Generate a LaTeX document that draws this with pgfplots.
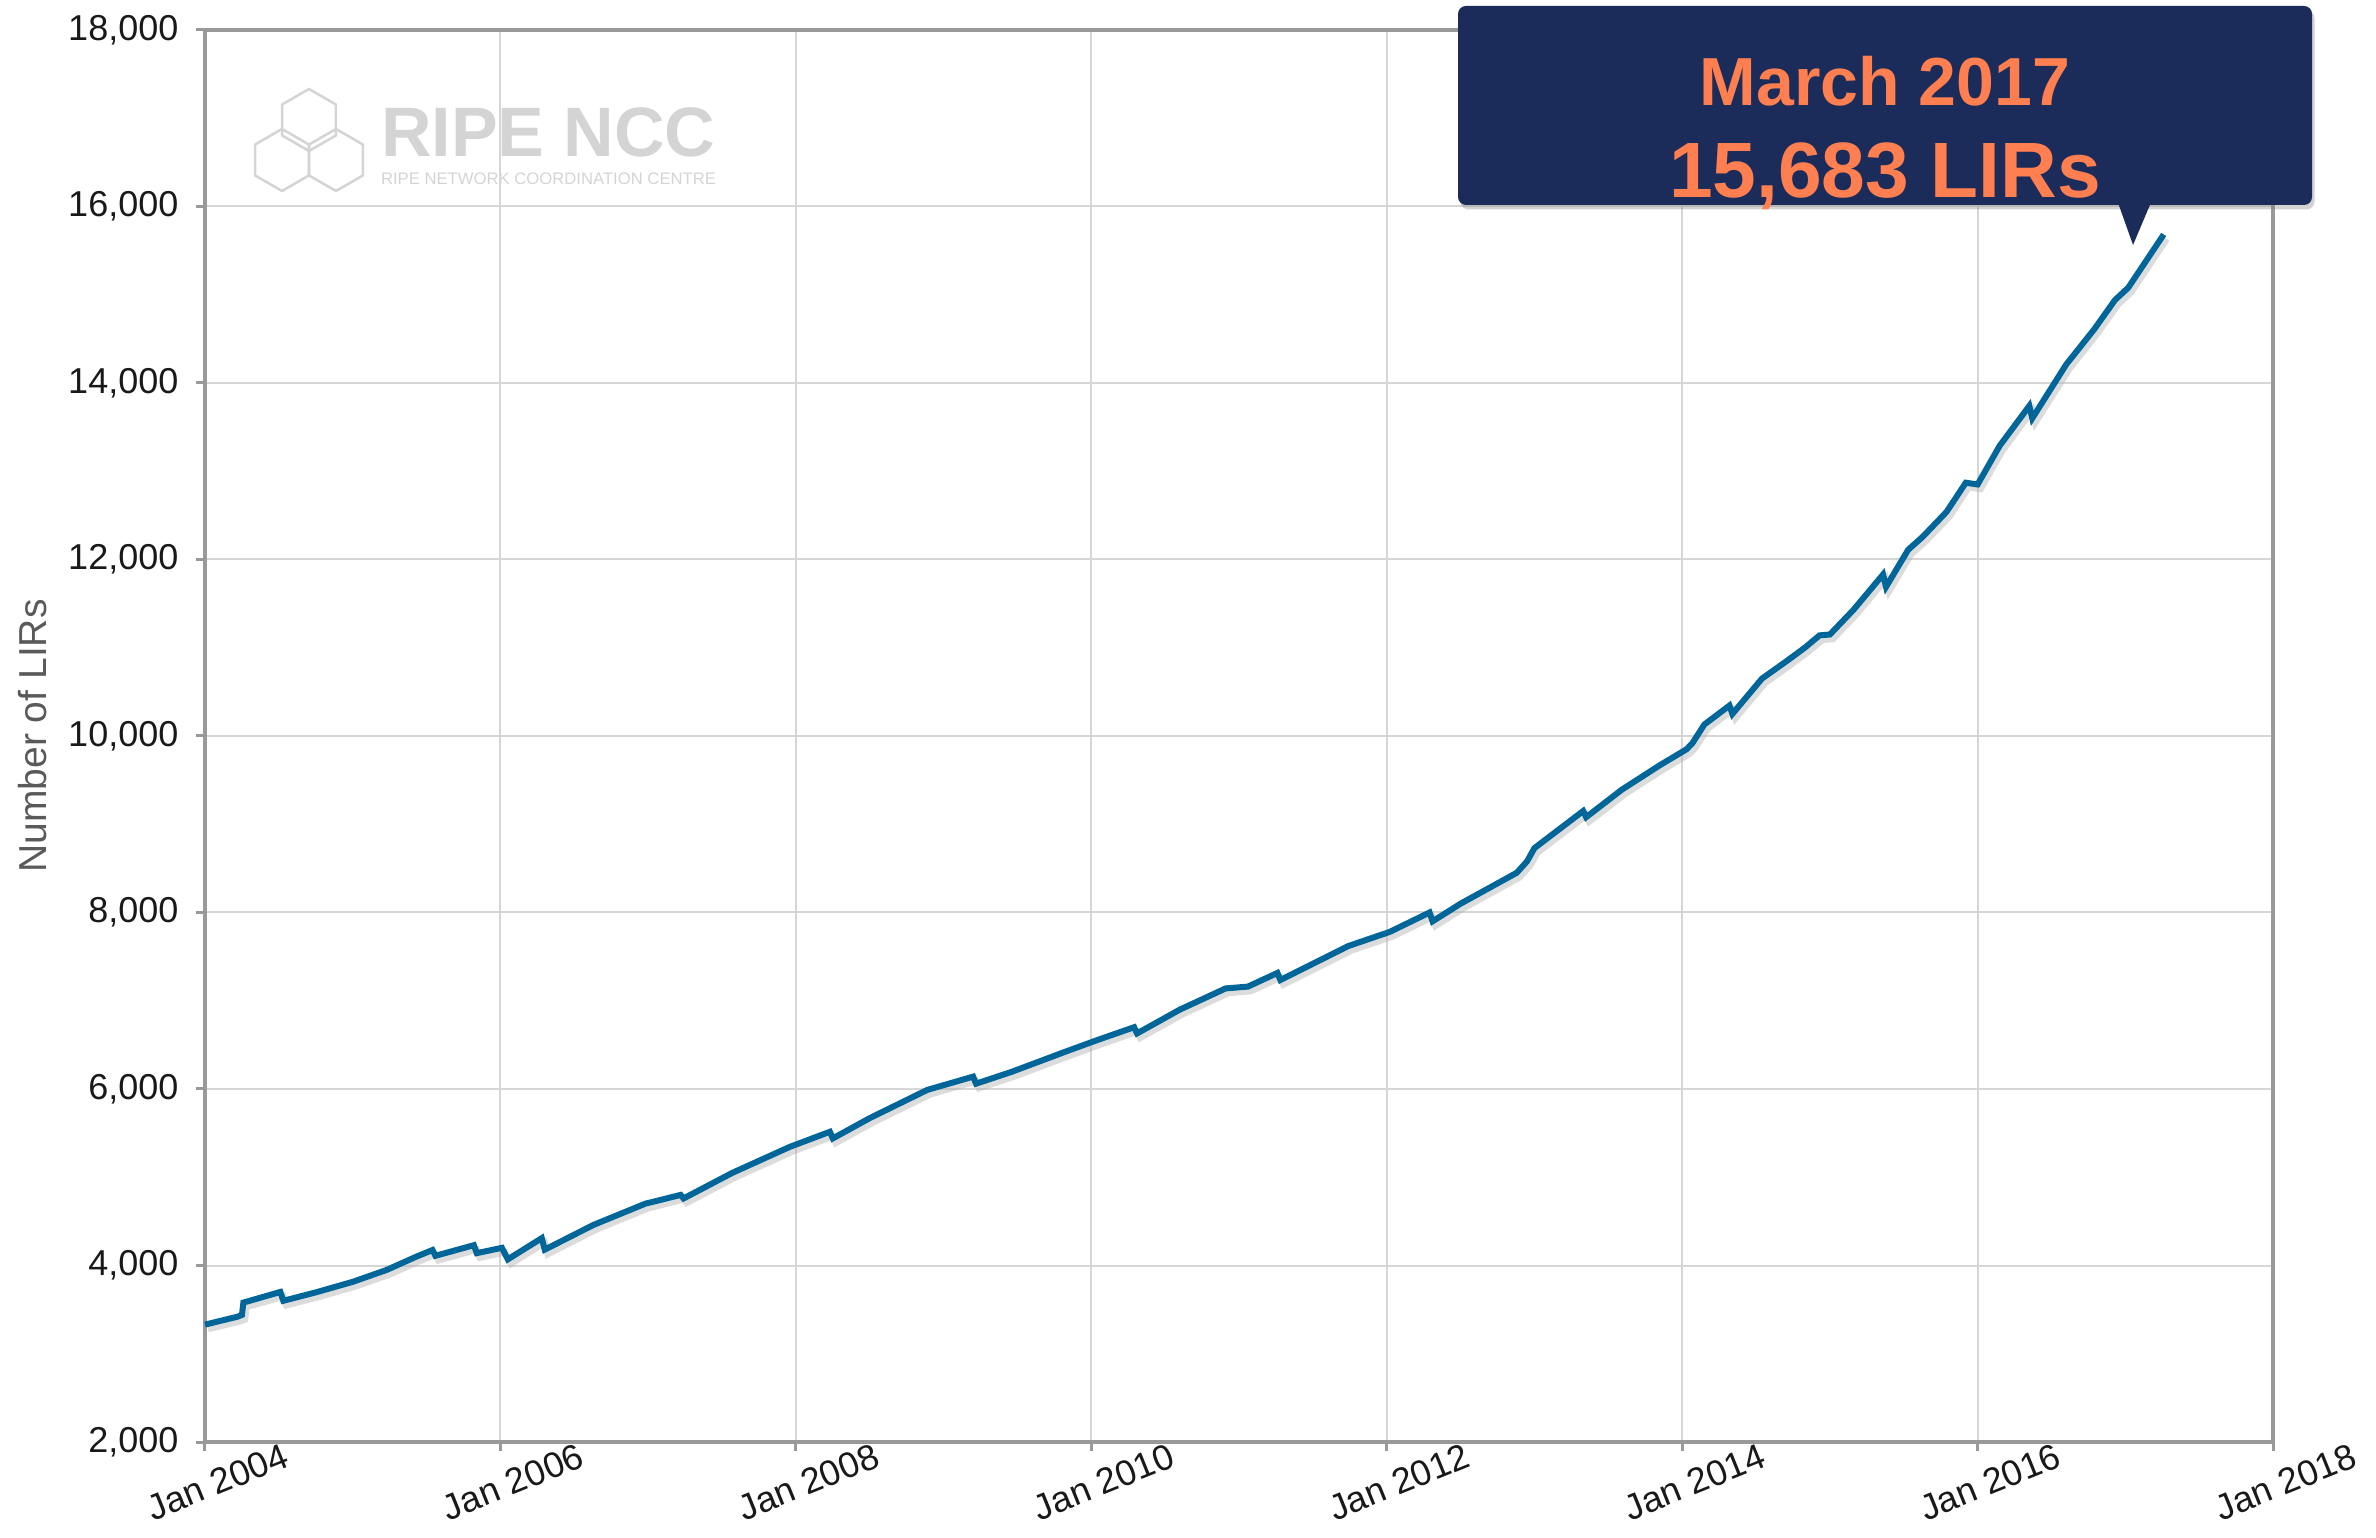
\documentclass[border=0pt]{standalone}
\usepackage{pgfplots}
\pgfplotsset{compat=1.18}
\usepackage{fontspec}
\setmainfont{Liberation Sans}
\usetikzlibrary{shadows}
\definecolor{lineblue}{RGB}{0,102,153}
\definecolor{navy}{RGB}{27,44,90}
\definecolor{coralc}{RGB}{255,127,80}
\definecolor{labgray}{RGB}{90,90,90}
\definecolor{logogray}{RGB}{212,212,212}
\begin{document}
\begin{tikzpicture}
\path[use as bounding box] (-41pt,-19pt) rectangle (434.2pt,288.4pt);
% watermark logo
\begin{scope}[draw=logogray, line width=0.5pt]
\draw[shift={(20.8pt,264.4pt)}] (90:6.2pt) -- (150:6.2pt) -- (210:6.2pt) -- (270:6.2pt) -- (330:6.2pt) -- (30:6.2pt) -- cycle;
\draw[shift={(15.4pt,256.4pt)}] (90:6.2pt) -- (150:6.2pt) -- (210:6.2pt) -- (270:6.2pt) -- (330:6.2pt) -- (30:6.2pt) -- cycle;
\draw[shift={(26.2pt,256.4pt)}] (90:6.2pt) -- (150:6.2pt) -- (210:6.2pt) -- (270:6.2pt) -- (330:6.2pt) -- (30:6.2pt) -- cycle;
\end{scope}
\node[anchor=base west, inner sep=0pt, text=logogray, font=\fontsize{14}{14}\selectfont\bfseries] at (35pt,257pt) {RIPE NCC};
\node[anchor=base west, inner sep=0pt, text=logogray] at (35pt,251.4pt) {\resizebox{67pt}{!}{\fontsize{5}{5}\selectfont RIPE NETWORK COORDINATION CENTRE}};
\begin{axis}[
  at={(0pt,0pt)}, anchor=south west,
  scale only axis, width=413.6pt, height=282.4pt,
  xmin=2004, xmax=2018, ymin=2000, ymax=18000,
  xtick={2004,2006,...,2018},
  xticklabels={Jan 2004,Jan 2006,Jan 2008,Jan 2010,Jan 2012,Jan 2014,Jan 2016,Jan 2018},
  ytick={2000,4000,...,18000},
  scaled y ticks=false,
  /pgf/number format/assume math mode=true,
  yticklabel style={/pgf/number format/1000 sep={,}, font=\fontsize{7.2}{8}\selectfont, text=black!90},
  xticklabel style={rotate=22, anchor=north, yshift=-0.6pt, font=\fontsize{7.2}{8}\selectfont, text=black!90},
  grid=major,
  major grid style={gray!32, line width=0.4pt},
  axis line style={gray!80, line width=0.8pt},
  tick style={gray!80, line width=0.6pt},
  tick align=outside, major tick length=1.8pt,
  xtick pos=bottom, ytick pos=left,
  ylabel={Number of LIRs},
  every axis y label/.style={at={(axis description cs:-0.0832,0.5)}, rotate=90, anchor=center, font=\fontsize{7.8}{9}\selectfont, text=labgray},
  clip=false,
]
\addplot[gray!60, opacity=0.45, line width=1.3pt, forget plot, shift={(0.6pt,-0.9pt)}] coordinates {
(2004.00,3330) (2004.22,3420) (2004.25,3440) (2004.26,3580) (2004.51,3700) (2004.53,3600)
(2004.76,3700) (2005.00,3815) (2005.23,3950) (2005.43,4100) (2005.54,4175) (2005.56,4110)
(2005.82,4230) (2005.84,4140) (2006.01,4200) (2006.05,4070) (2006.28,4310) (2006.30,4180)
(2006.63,4460) (2006.98,4700) (2007.22,4800) (2007.24,4760) (2007.57,5050) (2007.96,5345)
(2008.23,5515) (2008.25,5440) (2008.50,5670) (2008.89,5990) (2009.20,6140) (2009.22,6060)
(2009.47,6200) (2009.82,6420) (2010.05,6560) (2010.29,6700) (2010.31,6630) (2010.60,6900)
(2010.91,7140) (2011.06,7160) (2011.26,7315) (2011.28,7235) (2011.74,7620) (2012.02,7780)
(2012.29,8000) (2012.31,7900) (2012.50,8100) (2012.88,8450) (2012.95,8580) (2013.00,8730)
(2013.33,9150) (2013.35,9080) (2013.59,9390) (2013.85,9670) (2014.03,9850) (2014.07,9920)
(2014.15,10130) (2014.32,10345) (2014.34,10250) (2014.54,10650) (2014.70,10840) (2014.83,11000)
(2014.93,11140) (2015.00,11150) (2015.16,11430) (2015.36,11830) (2015.38,11690) (2015.53,12110)
(2015.63,12260) (2015.79,12540) (2015.92,12870) (2016.00,12850) (2016.15,13290) (2016.35,13740)
(2016.37,13600) (2016.60,14210) (2016.79,14610) (2016.93,14940) (2017.02,15080) (2017.26,15683)
};
\addplot[lineblue, line width=1.2pt] coordinates {
(2004.00,3330) (2004.22,3420) (2004.25,3440) (2004.26,3580) (2004.51,3700) (2004.53,3600)
(2004.76,3700) (2005.00,3815) (2005.23,3950) (2005.43,4100) (2005.54,4175) (2005.56,4110)
(2005.82,4230) (2005.84,4140) (2006.01,4200) (2006.05,4070) (2006.28,4310) (2006.30,4180)
(2006.63,4460) (2006.98,4700) (2007.22,4800) (2007.24,4760) (2007.57,5050) (2007.96,5345)
(2008.23,5515) (2008.25,5440) (2008.50,5670) (2008.89,5990) (2009.20,6140) (2009.22,6060)
(2009.47,6200) (2009.82,6420) (2010.05,6560) (2010.29,6700) (2010.31,6630) (2010.60,6900)
(2010.91,7140) (2011.06,7160) (2011.26,7315) (2011.28,7235) (2011.74,7620) (2012.02,7780)
(2012.29,8000) (2012.31,7900) (2012.50,8100) (2012.88,8450) (2012.95,8580) (2013.00,8730)
(2013.33,9150) (2013.35,9080) (2013.59,9390) (2013.85,9670) (2014.03,9850) (2014.07,9920)
(2014.15,10130) (2014.32,10345) (2014.34,10250) (2014.54,10650) (2014.70,10840) (2014.83,11000)
(2014.93,11140) (2015.00,11150) (2015.16,11430) (2015.36,11830) (2015.38,11690) (2015.53,12110)
(2015.63,12260) (2015.79,12540) (2015.92,12870) (2016.00,12850) (2016.15,13290) (2016.35,13740)
(2016.37,13600) (2016.60,14210) (2016.79,14610) (2016.93,14940) (2017.02,15080) (2017.26,15683)
};
\end{axis}
% callout
\fill[navy, rounded corners=1.6pt, drop shadow={shadow xshift=0.5pt, shadow yshift=-0.9pt, opacity=0.35}] (250.6pt,247.4pt) rectangle (421.4pt,287.2pt);
\fill[navy] (382.4pt,248.4pt) -- (389.4pt,248.4pt) -- (385.6pt,239.4pt) -- cycle;
\node[anchor=base, inner sep=0pt, text=coralc, font=\fontsize{13.6}{14}\selectfont\bfseries] at (336pt,267.2pt) {March 2017};
\node[anchor=base, inner sep=0pt, text=coralc, font=\fontsize{15.7}{16}\selectfont\bfseries] at (336pt,248.8pt) {15,683 LIRs};
\end{tikzpicture}
\end{document}
